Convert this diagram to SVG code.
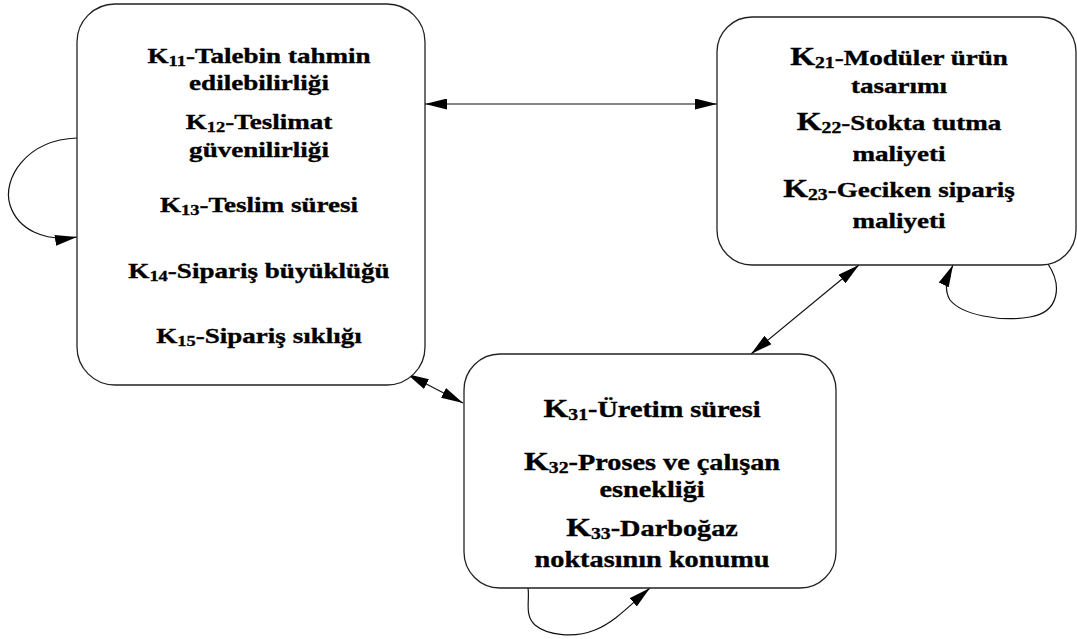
<svg xmlns="http://www.w3.org/2000/svg" width="1077" height="639" viewBox="0 0 1077 639">
  <style>
    .box { fill: #ffffff; stroke: #222222; stroke-width: 1.3; }
    .conn { fill: none; stroke: #111111; stroke-width: 1.2; }
    text { font-family: 'Liberation Serif', 'Times New Roman', Times, serif; font-weight: bold; font-size: 22px; fill: #000000; stroke: #000000; stroke-width: 0.35; text-anchor: middle; }
    .k { font-size: 26px; }
    .sub { font-size: 16px; }
    .sub1 { font-size: 15px; }
    .big { font-size: 23px; }
  </style>
  <defs>
    <marker id="arrow" viewBox="0 0 22 11" refX="22" refY="5.5" markerWidth="22" markerHeight="11" markerUnits="userSpaceOnUse" orient="auto-start-reverse">
      <path d="M0,0 L22,5.5 L0,11 z" fill="#000000"/>
    </marker>
  </defs>

  <rect width="1077" height="639" fill="#ffffff"/>

  <!-- Connectors -->
  <g id="connectors">
    <line class="conn" x1="425" y1="104" x2="717" y2="104" marker-start="url(#arrow)" marker-end="url(#arrow)"/>
    <line class="conn" x1="407" y1="374" x2="463" y2="403" marker-start="url(#arrow)" marker-end="url(#arrow)"/>
    <line class="conn" x1="859" y1="265" x2="751" y2="354" marker-start="url(#arrow)" marker-end="url(#arrow)"/>
    <!-- self loops -->
    <path class="conn" d="M77,138 C25,140 2,180 10,205 C18,230 45,242 77,237" marker-end="url(#arrow)"/>
    <path class="conn" d="M1048,264 C1062,285 1060,312 1030,317 C1000,322 962,315 950,300 C944,290 946,280 953,265" marker-end="url(#arrow)"/>
    <path class="conn" d="M528,588 C530,600 524,615 535,625 C548,636 575,638 595,630 C615,622 630,605 650,588" marker-end="url(#arrow)"/>
  </g>

  <!-- Node 1: demand and delivery criteria -->
  <g id="node-k1">
    <rect class="box" x="77" y="4" width="348" height="381" rx="38" ry="38"/>
    <g transform="translate(259,0) scale(1.23,1)">
      <text x="0" y="63">K<tspan class="sub1" dy="3">11</tspan><tspan dy="-3">-Talebin tahmin</tspan></text>
      <text x="0" y="90">edilebilirliği</text>
      <text x="0" y="129">K<tspan class="sub1" dy="3">12</tspan><tspan dy="-3">-Teslimat</tspan></text>
      <text x="0" y="157">güvenilirliği</text>
      <text x="0" y="212">K<tspan class="sub1" dy="3">13</tspan><tspan dy="-3">-Teslim süresi</tspan></text>
      <text x="0" y="278">K<tspan class="sub1" dy="3">14</tspan><tspan dy="-3">-Sipariş büyüklüğü</tspan></text>
      <text x="0" y="343">K<tspan class="sub1" dy="3">15</tspan><tspan dy="-3">-Sipariş sıklığı</tspan></text>
    </g>
  </g>

  <!-- Node 2: product and cost criteria -->
  <g id="node-k2">
    <rect class="box" x="717" y="17" width="359" height="248" rx="35" ry="35"/>
    <g transform="translate(899,0) scale(1.23,1)">
      <text x="0" y="65"><tspan class="k">K</tspan><tspan class="sub" dy="3">21</tspan><tspan dy="-3">-Modüler ürün</tspan></text>
      <text x="0" y="93">tasarımı</text>
      <text x="0" y="130"><tspan class="k">K</tspan><tspan class="sub" dy="3">22</tspan><tspan dy="-3">-Stokta tutma</tspan></text>
      <text x="0" y="161">maliyeti</text>
      <text x="0" y="197"><tspan class="k">K</tspan><tspan class="sub" dy="3">23</tspan><tspan dy="-3">-Geciken sipariş</tspan></text>
      <text x="0" y="228">maliyeti</text>
    </g>
  </g>

  <!-- Node 3: production criteria -->
  <g id="node-k3">
    <rect class="box" x="464" y="354" width="372" height="234" rx="36" ry="36"/>
    <g transform="translate(652,0) scale(1.23,1)">
      <text class="big" x="0" y="417"><tspan class="k">K</tspan><tspan class="sub" dy="3">31</tspan><tspan dy="-3">-Üretim süresi</tspan></text>
      <text class="big" x="0" y="470"><tspan class="k">K</tspan><tspan class="sub" dy="3">32</tspan><tspan dy="-3">-Proses ve çalışan</tspan></text>
      <text class="big" x="0" y="497">esnekliği</text>
      <text class="big" x="0" y="536"><tspan class="k">K</tspan><tspan class="sub" dy="3">33</tspan><tspan dy="-3">-Darboğaz</tspan></text>
      <text class="big" x="0" y="567">noktasının konumu</text>
    </g>
  </g>
</svg>
